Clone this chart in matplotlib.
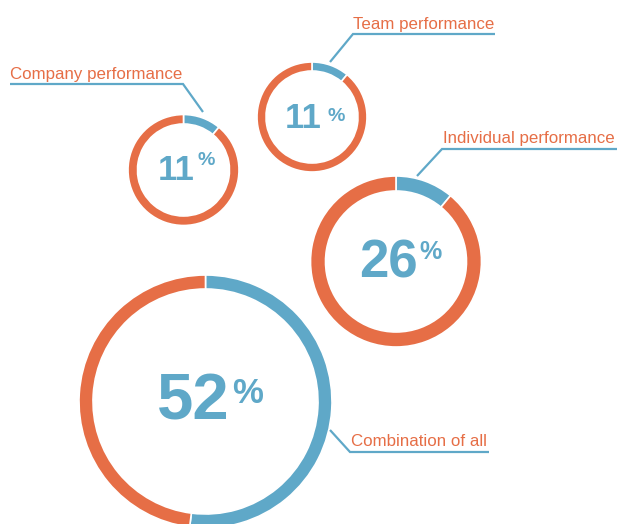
import matplotlib
matplotlib.use("Agg")
from matplotlib import pyplot as plt

# data
labels = ["Company performance", "Team performance", "Individual performance", "Combination of all"]
percents = [11, 11, 26, 52]
ring_share = [0.11, 0.11, 0.11, 0.52]   # blue arc drawn on each ring

# layout, in pixels from top-left of the 618x524 picture
W, H = 618, 524
centers = [(183.5, 170), (312, 117), (396, 261.5), (205.5, 401.5)]
radii = [55.5, 55, 85.5, 126.5]
widths = [9.5, 9, 15, 14]
# leader: (ring point, elbow, line end)
leaders = [((203, 112), (183, 84), (10, 84)),
           ((330, 62), (353, 34), (495, 34)),
           ((417, 176), (442, 149), (617, 149)),
           ((330, 430), (350, 452), (489, 452))]
label_x = [10, 353, 443, 351]
num_right = [195, 322, 418, 230]
num_base = [180, 128, 277, 420]
num_size = [25, 25, 38, 47]
pct_left = [197, 327, 419, 232]
pct_top = [152, 108, 240, 377]
pct_size = [14, 14, 18, 25]

orange = "#E66E46"
blue = "#5FA8C8"
font = "Liberation Sans"

fig = plt.figure(figsize=(W / 100, H / 100), dpi=100)
ax = fig.add_axes([0, 0, 1, 1])

for i in range(len(labels)):
    cx, cy = centers[i]
    ax.pie([ring_share[i], 1 - ring_share[i]], colors=[blue, orange],
           center=(cx, H - cy), radius=radii[i], startangle=90, counterclock=False,
           frame=True, wedgeprops=dict(width=widths[i], edgecolor="white", linewidth=1.2))

    pts = leaders[i]
    ax.plot([p[0] for p in pts], [H - p[1] for p in pts], color=blue, lw=1.6,
            solid_capstyle="butt", solid_joinstyle="miter")
    ax.text(label_x[i], H - pts[1][1] + 5.5, labels[i], color=orange, fontsize=12.2,
            family=font, ha="left", va="baseline")

    ax.text(num_right[i], H - num_base[i], str(percents[i]), color=blue,
            fontsize=num_size[i], fontweight="bold", family=font,
            ha="right", va="baseline")
    ax.text(pct_left[i], H - pct_top[i], "%", color=blue, fontsize=pct_size[i],
            fontweight="bold", family=font, ha="left", va="top")

ax.set_xlim(0, W)
ax.set_ylim(0, H)
ax.set_aspect("equal")
ax.axis("off")

fig.savefig("out.png", dpi=100, facecolor="white")
